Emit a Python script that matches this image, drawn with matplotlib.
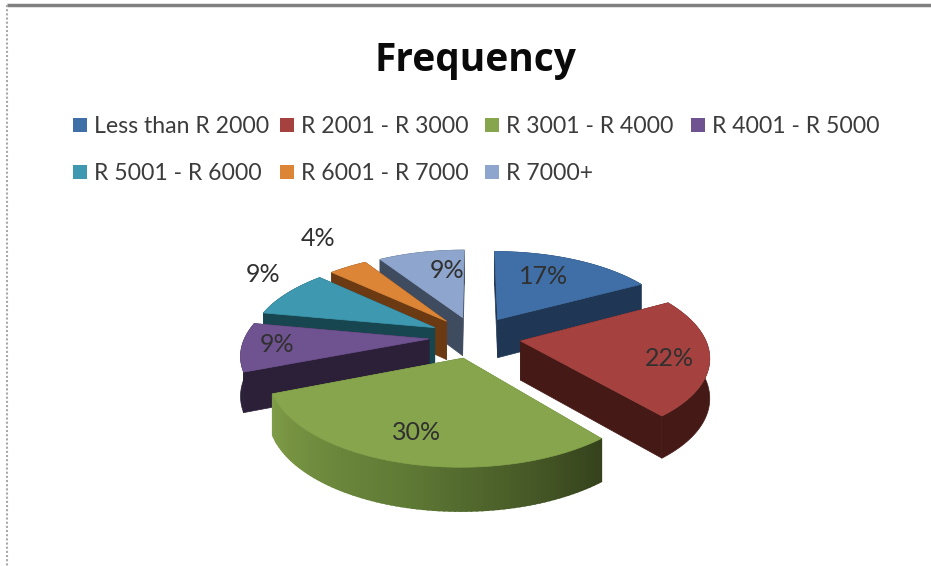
#!/usr/bin/env python
import matplotlib
matplotlib.use('Agg')
import matplotlib.pyplot as plt
import numpy as np
from matplotlib.colors import to_rgb
from matplotlib.patches import Polygon, Rectangle

categories = ['Less than R 2000', 'R 2001 - R 3000', 'R 3001 - R 4000', 'R 4001 - R 5000',
              'R 5001 - R 6000', 'R 6001 - R 7000', 'R 7000+']
values = [17, 22, 30, 9, 9, 4, 9]
title = 'Frequency'

colors = ['#3f6fa6', '#a5423f', '#86a54c', '#6f5290', '#3e98b0', '#dc8537', '#8ea6cd']
wall_colors = ['#1f3654', '#451a16', '#5f7a35', '#2c2039', '#174650', '#6b3a12', '#3f4b5f']
# painter's order, back to front
draw_order = [6, 5, 4, 3, 0, 1, 2]
label_xy = [(544, 277), (669, 359), (417, 433), (277, 345), (263, 275), (318, 239), (447, 270)]
legend_xy = [(73, 126), (280, 126), (485, 126), (691, 126), (73, 173), (280, 173), (485, 173)]

# pie projection, in picture pixels
cx, cy = 475, 337
ax_x, ax_y = 184, 84
persp = 0.16
explode = 0.25
depth = 39


def project(x, y, down=0.0):
    w = 1 + persp * y
    return cx + ax_x * x / w, cy - ax_y * y / w + down * (1 - 0.1 * y)


def mix(a, b, t):
    a, b = np.array(to_rgb(a)), np.array(to_rgb(b))
    return tuple(a + (b - a) * t)


fig = plt.figure(figsize=(9.31, 5.66), dpi=100)
ax = fig.add_axes([0, 0, 1, 1])
ax.set_xlim(0, 931)
ax.set_ylim(566, 0)
ax.axis('off')

# chart frame
ax.plot([7, 931], [5, 5], color='#808080', lw=2.5, solid_capstyle='butt')
ax.plot([7, 7], [5, 566], color='#a8a8a8', lw=1.5, ls=(0, (1, 1)))

ax.text(475, 60, title, ha='center', va='center', fontsize=28, fontweight='bold',
        family='Open Sans', color='#0a0a0a')

for name, col, (lx, ly) in zip(categories, colors, legend_xy):
    ax.add_patch(Rectangle((lx, ly - 8), 14, 14, color=col, lw=0))
    ax.text(lx + 21, ly + 7, name, ha='left', va='baseline', fontsize=16.6, family='Lato', color='#3c3c3c')

edges = np.cumsum([0] + values) / sum(values) * 2 * np.pi

for i in draw_order:
    t = np.linspace(edges[i], edges[i + 1], 80)
    mid = (edges[i] + edges[i + 1]) / 2
    ox, oy = explode * np.sin(mid), explode * np.cos(mid)
    x = ox + np.sin(t)
    y = oy + np.cos(t)
    z = 2 + draw_order.index(i)

    # radial walls
    for xe, ye in [(x[0], y[0]), (x[-1], y[-1])]:
        pts = [project(ox, oy), project(xe, ye), project(xe, ye, depth), project(ox, oy, depth)]
        ax.add_patch(Polygon(pts, color=wall_colors[i], lw=0.5, zorder=z))

    # outer wall, the green one is lit from the left
    if i == 2:
        for k in range(len(t) - 1):
            pts = [project(x[k], y[k]), project(x[k + 1], y[k + 1]),
                   project(x[k + 1], y[k + 1], depth), project(x[k], y[k], depth)]
            f = k / (len(t) - 2)
            c = mix('#35421c', '#5f7a35', f / 0.5) if f < 0.5 else mix('#5f7a35', '#7f9c47', (f - 0.5) / 0.5)
            ax.add_patch(Polygon(pts, facecolor=c, edgecolor=c, lw=1.2, zorder=z))
    else:
        upper = [project(a, b) for a, b in zip(x, y)]
        lower = [project(a, b, depth) for a, b in zip(x, y)]
        ax.add_patch(Polygon(upper + lower[::-1], color=wall_colors[i], lw=0.5, zorder=z))

    # top face
    top = [project(ox, oy)] + [project(a, b) for a, b in zip(x, y)]
    ax.add_patch(Polygon(top, color=colors[i], lw=0.5, zorder=z + 0.5))

for v, (lx, ly) in zip(values, label_xy):
    ax.text(lx, ly, f'{v}%', ha='center', va='center', fontsize=18, family='Lato',
            color='#303030', zorder=20)

fig.savefig('out.png', dpi=100, facecolor='white')
